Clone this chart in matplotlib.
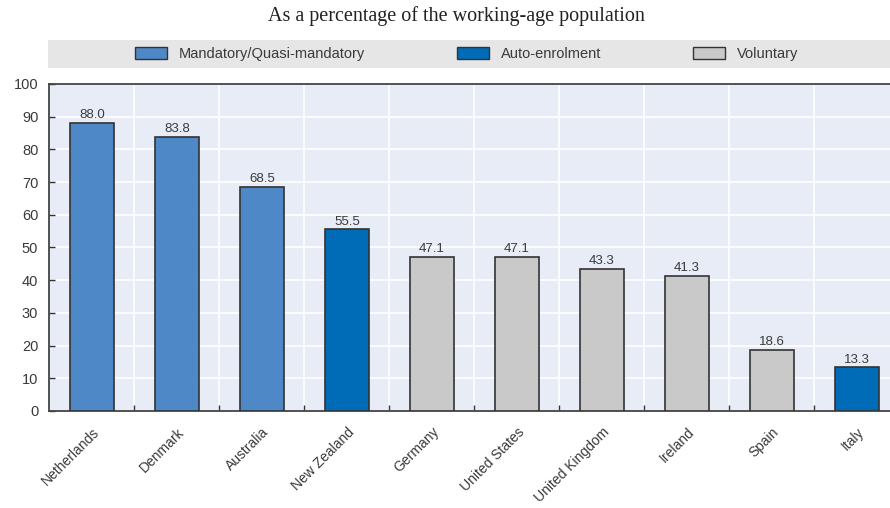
import matplotlib.pyplot as plt
from matplotlib.patches import Patch

countries = ['Netherlands', 'Denmark', 'Australia', 'New Zealand', 'Germany',
             'United States', 'United Kingdom', 'Ireland', 'Spain', 'Italy']
coverage = [88.0, 83.8, 68.5, 55.5, 47.1, 47.1, 43.3, 41.3, 18.6, 13.3]
schemes = ['Mandatory', 'Mandatory', 'Mandatory', 'Auto', 'Voluntary',
           'Voluntary', 'Voluntary', 'Voluntary', 'Voluntary', 'Auto']

scheme_names = {'Mandatory': 'Mandatory/Quasi-mandatory',
                'Auto': 'Auto-enrolment',
                'Voluntary': 'Voluntary'}
scheme_colors = {'Mandatory': '#4f88c6', 'Auto': '#006bb6', 'Voluntary': '#c9c9c9'}

narrow = ['Liberation Sans Narrow', 'Liberation Sans', 'DejaVu Sans']
plt.rcParams['font.family'] = narrow
text_col = '#3a3a3a'

fig = plt.figure(figsize=(8.9, 5.08), dpi=100)

fig.text(0.513, 0.968, 'As a percentage of the working-age population',
         ha='center', va='center', fontsize=14.5, color='#222222',
         family=['Liberation Serif', 'DejaVu Serif'])

# legend band
band = fig.add_axes([0.054, 0.866, 0.946, 0.055])
band.set_facecolor('#e6e6e6')
band.set_xticks([])
band.set_yticks([])
for s in band.spines.values():
    s.set_visible(False)
handles = [Patch(facecolor=scheme_colors[k], edgecolor='#333333', linewidth=1.0,
                 label=scheme_names[k]) for k in ['Mandatory', 'Auto', 'Voluntary']]
band.legend(handles=handles, ncol=3, loc='center', bbox_to_anchor=(0.497, 0.5),
            frameon=False, fontsize=10.5, handlelength=2.2, handleheight=0.9,
            columnspacing=6.3, handletextpad=0.8, labelcolor=text_col)

ax = fig.add_axes([0.0555, 0.191, 0.955, 0.6437])
ax.set_facecolor('#e8ecf6')
x = list(range(len(countries)))
bars = ax.bar(x, coverage, width=0.52,
              color=[scheme_colors[s] for s in schemes],
              edgecolor='#333333', linewidth=1.2, zorder=3)
for b, v in zip(bars, coverage):
    ax.text(b.get_x() + b.get_width() / 2, v + 0.6, f'{v:.1f}',
            ha='center', va='bottom', fontsize=9.5, color=text_col, zorder=4)

ax.set_xlim(-0.5, len(countries) - 0.5)
ax.set_ylim(0, 100)
ax.set_yticks(range(0, 101, 10))
ax.tick_params(axis='y', direction='in', length=4, width=1, color='#333333',
               labelsize=10.5, labelcolor=text_col, pad=8)

ax.set_xticks(x)
ax.set_xticklabels(countries, rotation=45, ha='right', rotation_mode='anchor',
                   fontsize=10, color=text_col)
ax.tick_params(axis='x', length=0, pad=10)
# category separators: white grid lines and small inward ticks at the bottom
bounds = [i + 0.5 for i in range(len(countries) - 1)]
ax.set_xticks(bounds, minor=True)
ax.tick_params(axis='x', which='minor', direction='in', length=4, width=1,
               color='#333333')
ax.grid(True, which='minor', axis='x', color='white', linewidth=1.2, zorder=0)
ax.grid(True, which='major', axis='y', color='white', linewidth=1.2, zorder=0)
ax.set_axisbelow(True)

for side in ['left', 'top', 'bottom']:
    ax.spines[side].set_color('#444444')
    ax.spines[side].set_linewidth(1.3)
ax.spines['right'].set_visible(False)

fig.savefig('out.png', dpi=100)
